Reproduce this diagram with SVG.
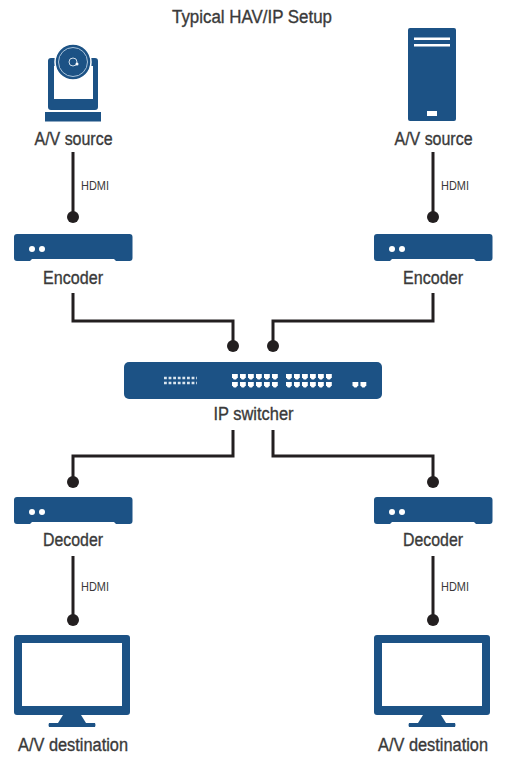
<svg xmlns="http://www.w3.org/2000/svg" width="510" height="768" viewBox="0 0 510 768">
<style>
.f{fill:#1c5285}.w{fill:#fff}
.t{font-family:"Liberation Sans",Arial,sans-serif;font-size:18px;fill:#3a3a3a;stroke:#3a3a3a;stroke-width:.35;text-anchor:middle}
.h{font-family:"Liberation Sans",Arial,sans-serif;font-size:13px;fill:#3a3a3a}
.c{fill:none;stroke:#231f20;stroke-width:3}
.d{fill:#231f20}
</style>
<defs>
<g id="box"><path class="f" d="M3 0H115.500Q118.500 0 118.500 3V24Q118.500 27 115.500 27H102L100 25H18L16 27H3Q0 27 0 24V3Q0 0 3 0Z"/><circle class="w" cx="18" cy="15" r="3"/><circle class="w" cx="28" cy="15" r="3"/></g>
<g id="mon"><path class="f" fill-rule="evenodd" d="M3 0H113Q116 0 116 3V77Q116 80 113 80H3Q0 80 0 77V3Q0 0 3 0ZM8 8V71H108V8Z"/><path class="f" d="M49 80H67L72 88H81Q82 90 81 92H35Q34 90 35 88H44Z"/></g>
<g id="port"><path class="w" d="M0 0H5.800V3.200L4 5.500H1.800L0 3.200Z"/></g>
<g id="row"><use href="#port"/><use href="#port" x="8"/><use href="#port" x="16"/><use href="#port" x="24"/><use href="#port" x="32"/><use href="#port" x="40"/></g>
</defs>
<text class="t" x="252" y="23" textLength="160" lengthAdjust="spacingAndGlyphs">Typical HAV/IP Setup</text>
<g id="connectors">
<path class="c" d="M73 152V217"/><circle class="d" cx="73" cy="217" r="6"/>
<path class="c" d="M433 152V217"/><circle class="d" cx="433" cy="217" r="6"/>
<path class="c" d="M73 293V321H233V346"/><circle class="d" cx="233" cy="346" r="6"/>
<path class="c" d="M433 293V321H273V346"/><circle class="d" cx="273" cy="346" r="6"/>
<path class="c" d="M233 430V456H73V482"/><circle class="d" cx="73" cy="482" r="6"/>
<path class="c" d="M273 430V456H433V482"/><circle class="d" cx="433" cy="482" r="6"/>
<path class="c" d="M73 556V620"/><circle class="d" cx="73" cy="620" r="6"/>
<path class="c" d="M433 556V620"/><circle class="d" cx="433" cy="620" r="6"/>
<text class="h" x="81" y="190" textLength="28" lengthAdjust="spacingAndGlyphs">HDMI</text>
<text class="h" x="441" y="190" textLength="28" lengthAdjust="spacingAndGlyphs">HDMI</text>
<text class="h" x="81" y="591" textLength="28" lengthAdjust="spacingAndGlyphs">HDMI</text>
<text class="h" x="441" y="591" textLength="28" lengthAdjust="spacingAndGlyphs">HDMI</text>
</g>
<g id="source-camera">
<path class="f" fill-rule="evenodd" d="M51 58H95Q98 58 98 61V107Q98 110 95 110H51Q48 110 48 107V61Q48 58 51 58ZM54 66V99H93V66Z"/>
<rect class="f" x="45" y="112" width="56" height="9.500"/>
<circle class="f" cx="73" cy="62" r="18" stroke="#fff" stroke-width="1.500"/>
<circle class="f" cx="73" cy="62" r="14.500" stroke="#a9c3da" stroke-width="1"/>
<circle class="f" cx="73" cy="62" r="4" stroke="#cfdde9" stroke-width="1"/>
<circle class="w" cx="77" cy="64" r="1.500"/>
<text class="t" x="73.500" y="145" textLength="78" lengthAdjust="spacingAndGlyphs">A/V source</text>
</g>
<g id="source-server">
<rect class="f" x="408" y="28" width="48" height="93" rx="2"/>
<rect class="w" x="414" y="37.500" width="36" height="2.500"/>
<rect class="w" x="414" y="44" width="36" height="2.500"/>
<rect class="w" x="427" y="111" width="10" height="5"/>
<text class="t" x="433.500" y="145" textLength="78" lengthAdjust="spacingAndGlyphs">A/V source</text>
</g>
<g id="encoder-left"><use href="#box" x="14" y="234"/><text class="t" x="73" y="284" textLength="60" lengthAdjust="spacingAndGlyphs">Encoder</text></g>
<g id="encoder-right"><use href="#box" x="374" y="234"/><text class="t" x="433" y="284" textLength="60" lengthAdjust="spacingAndGlyphs">Encoder</text></g>
<g id="ip-switcher">
<rect class="f" x="124" y="362" width="258" height="37" rx="5"/>
<path d="M164 378H197M164 383H197" fill="none" stroke="#dbe6ef" stroke-width="2.600" stroke-dasharray="2.800 1.800"/>
<use href="#row" x="232" y="374"/><use href="#row" x="232" y="382"/>
<use href="#row" x="286" y="374"/><use href="#row" x="286" y="382"/>
<use href="#port" x="352.500" y="382"/><use href="#port" x="360.500" y="382"/>
<text class="t" x="253.500" y="420" textLength="80" lengthAdjust="spacingAndGlyphs">IP switcher</text>
</g>
<g id="decoder-left"><use href="#box" x="14" y="497"/><text class="t" x="73" y="546" textLength="60" lengthAdjust="spacingAndGlyphs">Decoder</text></g>
<g id="decoder-right"><use href="#box" x="374" y="497"/><text class="t" x="433" y="546" textLength="60" lengthAdjust="spacingAndGlyphs">Decoder</text></g>
<g id="destination-left"><use href="#mon" x="14" y="635"/><text class="t" x="73" y="751" textLength="110" lengthAdjust="spacingAndGlyphs">A/V destination</text></g>
<g id="destination-right"><use href="#mon" x="374" y="635"/><text class="t" x="433" y="751" textLength="110" lengthAdjust="spacingAndGlyphs">A/V destination</text></g>
</svg>
